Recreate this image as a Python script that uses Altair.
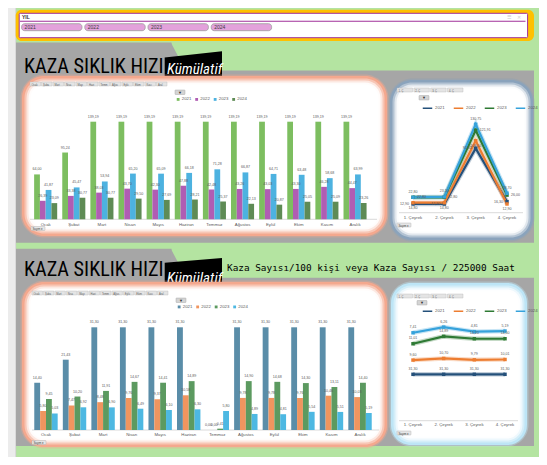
import altair as alt
import pandas as pd

# ---------------- data ----------------
years = ["2021", "2022", "2023", "2024"]
months = ["Ocak", "Şubat", "Mart", "Nisan", "Mayıs", "Haziran",
          "Temmuz", "Ağustos", "Eylül", "Ekim", "Kasım", "Aralık"]
quarters = ["1. Çeyrek", "2. Çeyrek", "3. Çeyrek", "4. Çeyrek"]

# Section 1 - monthly
freq_2021 = [64.00, 95.24, 139.19, 139.19, 139.19, 139.19, 139.19, 139.19, 139.19, 139.19, 139.19, 139.19]
freq_2022 = [26.39, 33.38, 38.03, 43.70, 42.30, 47.88, 42.48, 43.26, 43.03, 43.30, 46.28, 44.47]
freq_2023 = [41.87, 45.47, 53.94, 65.20, 65.09, 66.18, 71.28, 66.87, 64.71, 63.48, 58.68, 63.99]
freq_2024 = [23.09, 30.77, 30.77, 29.50, 27.69, 28.21, 25.37, 22.13, 20.87, 25.05, 25.09, 23.26]
# Section 1 - quarterly
freq_q_2021 = [12.90, 12.90, 95.20, 16.30]
freq_q_2022 = [14.80, 14.80, 106.50, 12.90]
freq_q_2023 = [22.80, 22.80, 121.91, 26.00]
freq_q_2024 = [22.80, 23.50, 130.75, 28.70]

# Section 2 - monthly
rate_2021 = [14.40, 21.43, 31.30, 31.30, 31.30, 31.30, 0.00, 31.30, 31.30, 31.30, 31.30, 31.30]
rate_2022 = [5.80, 7.47, 8.48, 9.76, 9.37, 10.58, 0.00, 9.78, 9.78, 9.76, 10.46, 10.03]
rate_2023 = [9.45, 10.20, 11.91, 14.67, 14.41, 14.89, 0.41, 14.90, 14.68, 14.30, 13.11, 14.40]
rate_2024 = [5.03, 6.92, 6.90, 6.49, 6.10, 6.30, 5.80, 4.89, 4.81, 5.54, 5.51, 5.19]
# Section 2 - quarterly (stacked lines)
rate_q_2021 = [31.30, 31.30, 31.30, 31.30]
rate_q_2022 = [9.60, 10.70, 9.79, 10.01]
rate_q_2023 = [11.01, 14.89, 14.20, 14.00]
rate_q_2024 = [7.41, 6.26, 4.81, 5.19]


def monthly_df(series):
    rows = []
    for y, vals in zip(years, series):
        for m, v in zip(months, vals):
            rows.append({"ay": m, "yil": y, "deger": v})
    return pd.DataFrame(rows)


def quarterly_df(series):
    rows = []
    for y, vals in zip(years, series):
        for q, v in zip(quarters, vals):
            rows.append({"ceyrek": q, "yil": y, "deger": v})
    return pd.DataFrame(rows)


df_bar1 = monthly_df([freq_2021, freq_2022, freq_2023, freq_2024])
df_line1 = quarterly_df([freq_q_2021, freq_q_2022, freq_q_2023, freq_q_2024])
df_bar2 = monthly_df([rate_2021, rate_2022, rate_2023, rate_2024])
df_line2 = quarterly_df([rate_q_2021, rate_q_2022, rate_q_2023, rate_q_2024])

# ---------------- style ----------------
GREEN = "#B4E4A1"
GRAY = "#A6A6A6"
bar1_colors = ["#7DBE60", "#B05DB3", "#4DB2E0", "#5E8B55"]
bar2_colors = ["#5A8DA8", "#F0955F", "#5C9A60", "#4DB8E2"]
line_colors = ["#24507A", "#ED7D31", "#2E7A34", "#36A2DB"]
FONT = "Liberation Sans"
TITLE_FONT = "Liberation Sans Narrow, Roboto Condensed, DejaVu Sans Condensed, sans-serif"
LBL = "#595959"

W, H = 531, 449
M = 8  # page margin: reference coords -> canvas coords
one = pd.DataFrame({"k": [0]})


def box(x1, y1, x2, y2, fill, r=0, opacity=1.0, stroke=None, sw=0.0):
    kw = dict(fill=fill, cornerRadius=r, opacity=opacity)
    if stroke is not None:
        kw["stroke"] = stroke
        kw["strokeWidth"] = sw
    else:
        kw["strokeWidth"] = 0
    return alt.Chart(one).mark_rect(**kw).encode(
        x=alt.value(x1 - M), x2=alt.value(x2 - M),
        y=alt.value(y1 - M), y2=alt.value(y2 - M))


def txt(x, y, s, size, color="#000000", font=FONT, weight="normal", style="normal",
        align="left", baseline="alphabetic"):
    return alt.Chart(one).mark_text(
        text=s, fontSize=size, color=color, font=font, fontWeight=weight,
        fontStyle=style, align=align, baseline=baseline
    ).encode(x=alt.value(x - M), y=alt.value(y - M))


def shape(cx, cy, r, path, fill):
    return alt.Chart(one).mark_point(
        shape=path, size=(2 * r) ** 2, filled=True, color=fill, opacity=1, strokeWidth=0
    ).encode(x=alt.value(cx - M), y=alt.value(cy - M))


def glow(x1, y1, x2, y2, edge, r):
    layers = [box(x1 - 1.5, y1 - 1.5, x2 + 1.5, y2 + 1.5, edge, r + 2, 0.4),
              box(x1, y1, x2, y2, edge, r)]
    for inset, op in [(2.5, 0.35), (4.5, 0.6), (6.5, 0.85), (8.5, 1.0)]:
        layers.append(box(x1 + inset, y1 + inset, x2 - inset, y2 - inset,
                          "#FFFFFF", max(r - inset, 2), op))
    return layers


def field_buttons(items, x1, x2, y1, y2):
    d = pd.DataFrame({"f": items})
    sc = alt.Scale(domain=items, range=[x1 - M, x2 - M], paddingInner=0.08, paddingOuter=0)
    b = alt.Chart(d).mark_bar(fill="#E4E4E4", stroke="#B5B5B5", strokeWidth=0.4).encode(
        x=alt.X("f:N", scale=sc, axis=None, sort=items),
        y=alt.value(y1 - M), y2=alt.value(y2 - M))
    t = alt.Chart(d).transform_calculate(s="substring(datum.f, 0, 4)").mark_text(
        fontSize=2.6, color="#606060", align="left", dx=1.5, font=FONT).encode(
        x=alt.X("f:N", scale=sc, axis=None, sort=items, bandPosition=0),
        y=alt.value((y1 + y2) / 2 + 1 - M), text="s:N")
    return alt.layer(b, t)


def filter_button(x1, y1):
    return [box(x1, y1, x1 + 10, y1 + 4.5, "#D4D4D4", 0.5, stroke="#9A9A9A", sw=0.4),
            txt(x1 + 5, y1 + 3.9, "▼", 4, color="#303030", align="center")]


def count_button(x1, y1):
    return [box(x1, y1, x1 + 14, y1 + 4, "#E6E6E6", 0.5, stroke="#A8A8A8", sw=0.4),
            txt(x1 + 1.5, y1 + 3.2, "Sayım ▾", 2.8, color="#404040")]


LBL_EXPR = "replace(format(datum.deger, '.2f'), '.', ',')"


def bar_panel(df, colors, x_range, y_range, ymax, leg_x, leg_y, base_y, lab_y, rule_x):
    xs = alt.Scale(domain=months, range=x_range, paddingInner=0.18, paddingOuter=0.09)
    ys = alt.Scale(domain=[0, ymax], range=y_range, nice=False, zero=True)
    cs = alt.Scale(domain=years, range=colors)
    xo = alt.Scale(domain=years, paddingInner=0, paddingOuter=0)
    X = alt.X("ay:N", scale=xs, axis=None, sort=months)
    XO = alt.XOffset("yil:N", scale=xo, sort=years)
    Y = alt.Y("deger:Q", scale=ys, axis=None)
    legend = alt.Legend(orient="none", legendX=leg_x, legendY=leg_y, direction="horizontal",
                        title=None, symbolType="square", symbolSize=8, symbolStrokeWidth=0,
                        labelFontSize=4.3, labelOffset=1.5, labelColor=LBL, labelFont=FONT,
                        columnPadding=2.5, padding=0, rowPadding=0)
    bars = alt.Chart(df).mark_bar().encode(
        x=X, xOffset=XO, y=Y,
        color=alt.Color("yil:N", scale=cs, sort=years, legend=legend))
    labels = alt.Chart(df).transform_calculate(lbl=LBL_EXPR).mark_text(
        fontSize=3.6, color=LBL, baseline="bottom", dy=-3, font=FONT).encode(
        x=X, xOffset=XO, y=Y, text="lbl:N")
    base = alt.Chart(one).mark_rule(color="#D0D0D0", strokeWidth=0.8).encode(
        x=alt.value(rule_x[0] - M), x2=alt.value(rule_x[1] - M),
        y=alt.value(base_y - M))
    mlab = alt.Chart(pd.DataFrame({"ay": months})).mark_text(
        fontSize=4.3, color=LBL, baseline="middle", font=FONT).encode(
        x=X, y=alt.value(lab_y - M), text="ay:N")
    return alt.layer(base, bars, labels, mlab)


def line_panel(df, x_range, y_range, ymax, stacked, leg_x, leg_y, base_y, lab_y, rule_x):
    xs = alt.Scale(type="point", domain=quarters, range=x_range, padding=0)
    ys = alt.Scale(domain=[0, ymax], range=y_range, nice=False, zero=True)
    cs = alt.Scale(domain=years, range=line_colors)
    X = alt.X("ceyrek:N", scale=xs, axis=None, sort=quarters)
    src = alt.Chart(df)
    yfield = "deger"
    if stacked:
        src = src.transform_window(cum="sum(deger)", groupby=["ceyrek"],
                                   sort=[alt.SortField("yil", order="ascending")])
        yfield = "cum"
    Y = alt.Y(f"{yfield}:Q", scale=ys, axis=None)
    legend = alt.Legend(orient="none", legendX=leg_x, legendY=leg_y, direction="horizontal",
                        title=None, symbolType="stroke", symbolSize=90, symbolStrokeWidth=1.5,
                        symbolOpacity=1, labelFontSize=4.3, labelOffset=2, labelColor=LBL,
                        labelFont=FONT, columnPadding=5, padding=0, rowPadding=0)
    C = alt.Color("yil:N", scale=cs, sort=years, legend=legend)
    base = alt.Chart(one).mark_rule(color="#D0D0D0", strokeWidth=0.8).encode(
        x=alt.value(rule_x[0] - M), x2=alt.value(rule_x[1] - M),
        y=alt.value(base_y - M))
    halo = src.mark_line(strokeWidth=4.5, opacity=0.28).encode(x=X, y=Y, color=C)
    line = src.mark_line(strokeWidth=2.2).encode(x=X, y=Y, color=C)
    pts = src.mark_point(shape="square", filled=True, size=12, opacity=1).encode(
        x=X, y=Y, color=C)
    lsrc = src.transform_calculate(lbl=LBL_EXPR)
    lab_layers = []
    if stacked:
        lab_layers.append(lsrc.mark_text(
            fontSize=3.6, color=LBL, baseline="bottom", dy=-3.5, font=FONT).encode(
            x=X, y=Y, text="lbl:N"))
    else:
        # labels placed around the points so that close values stay readable
        placements = {"2024": dict(baseline="bottom", dy=-3.5, align="center"),
                      "2023": dict(baseline="middle", dx=4, align="left"),
                      "2022": dict(baseline="top", dy=3.5, align="center"),
                      "2021": dict(baseline="middle", dx=-4, align="right")}
        for yr, kw in placements.items():
            lab_layers.append(lsrc.transform_filter(alt.datum.yil == yr).mark_text(
                fontSize=3.6, color=LBL, font=FONT, **kw).encode(
                x=X, y=Y, text="lbl:N"))
    qlab = alt.Chart(pd.DataFrame({"ceyrek": quarters})).mark_text(
        fontSize=4.3, color=LBL, baseline="middle", font=FONT).encode(
        x=X, y=alt.value(lab_y - M), text="ceyrek:N")
    return alt.layer(base, halo, line, pts, *lab_layers, qlab)


layers = []
# Excel row-header strip
layers.append(box(8, 8, 16, 457, "#ECECEC"))
layers.append(box(15.5, 8, 16.2, 457, "#C8C8C8"))

# ---- slicer ----
layers.append(box(15.7, 9.8, 534, 41, "#FFC000", 6))
layers.append(box(19.2, 13.3, 527.6, 37.7, "#FFFFFF", 1, stroke="#A0309A", sw=1))
layers.append(box(20, 20.8, 525.5, 21.8, "#A0309A"))
layers.append(txt(22, 19, "YIL", 5, weight="bold", color="#303030"))
layers.append(txt(509, 18.8, "☰", 5, color="#C8C8C8", align="center"))
layers.append(txt(519, 18.8, "✕", 5, color="#D0D0D0", align="center"))
yr_df = pd.DataFrame({"yil": years})
bsc = alt.Scale(domain=years, range=[21.6 - M, 271.6 - M], paddingInner=0.045, paddingOuter=0)
slicer_btn = alt.Chart(yr_df).mark_bar(fill="#E3A2DB", stroke="#9C9C9C", strokeWidth=0.8,
                                       cornerRadius=3).encode(
    x=alt.X("yil:N", scale=bsc, axis=None, sort=years),
    y=alt.value(23.7 - M), y2=alt.value(30.7 - M))
slicer_txt = alt.Chart(yr_df).mark_text(align="left", dx=3, fontSize=5, color="#404040",
                                        baseline="middle", font=FONT).encode(
    x=alt.X("yil:N", scale=bsc, axis=None, sort=years, bandPosition=0),
    y=alt.value(27.4 - M), text="yil:N")
layers.append(alt.layer(slicer_btn, slicer_txt))

# ---- section panels (gray) ----
TAB_PATH = "M-0.526,-1 L0.526,1 L-0.526,1 Z"
layers.append(box(16, 42.5, 171.5, 71.5, GRAY))
layers.append(shape(178.5, 57, 14.5, TAB_PATH, GRAY))
layers.append(box(16, 70.5, 534, 242.7, GRAY))
layers.append(box(16, 248.7, 171.5, 278.5, GRAY))
layers.append(shape(178.5, 263.3, 14.6, TAB_PATH, GRAY))
layers.append(box(16, 277.7, 534, 446, GRAY))

# ---- titles ----
layers.append(txt(24, 73, "KAZA SIKLIK HIZI", 20.2, font=TITLE_FONT))
layers.append(shape(193.35, 64, 28.65, "M-1,-0.23 L1,-0.447 L1,0.44 L-1,0.44 Z", "#000000"))
layers.append(txt(167, 74, "Kümülatif", 15, color="#FFFFFF", font=TITLE_FONT, style="italic"))
layers.append(txt(24, 276, "KAZA SIKLIK HIZI", 20.2, font=TITLE_FONT))
layers.append(shape(193.35, 271.7, 28.65, "M-1,-0.314 L1,-0.478 L1,0.478 L-1,0.478 Z", "#000000"))
layers.append(txt(167, 283, "Kümülatif", 15, color="#FFFFFF", font=TITLE_FONT, style="italic"))
layers.append(txt(227, 270.5, "Kaza Sayısı/100 kişi veya Kaza Sayısı / 225000 Saat", 9.4,
                  font="DejaVu Sans Mono", color="#000000"))

# ---- frames ----
layers += glow(22, 76, 387, 236, "#F4A88E", 22)
layers += glow(390, 80, 533, 240, "#8AA3BC", 22)
layers += glow(22, 282, 387, 447, "#F4A88E", 22)
layers += glow(391, 283, 527, 445, "#BDE5F6", 20)

# ---- pivot buttons ----
layers.append(field_buttons(months, 30, 167, 82, 86))
layers.append(field_buttons(months, 32, 168, 291, 295))
layers.append(field_buttons(quarters, 397, 463, 88, 92))
layers.append(field_buttons(quarters, 397, 463, 294, 298))
layers += filter_button(175, 90)
layers += filter_button(176, 298)
layers += filter_button(419, 95.5)
layers += filter_button(417, 300.5)
layers += count_button(31, 226.5)
layers += count_button(32, 440.5)
layers += count_button(397, 223)
layers += count_button(397, 431)

# ---- charts ----
layers.append(bar_panel(df_bar1, bar1_colors, [23.6, 361.1], [211.3, 113.7], 139.19,
                        168, 89, 219.3, 224.5, (30, 377)))
layers.append(line_panel(df_line1, [405, 499], [204.7, 110.06], 140, False,
                         414, 94.5, 212.7, 217.5, (399, 523)))
layers.append(bar_panel(df_bar2, bar2_colors, [23.7, 366.3], [422, 319.3], 31.3,
                        169, 296.5, 430, 434.5, (32, 379)))
layers.append(line_panel(df_line2, [405, 497], [412.7, 308.96], 70, True,
                         414, 297.5, 420.7, 425, (399, 518)))

chart = alt.layer(*layers).resolve_scale(
    x="independent", y="independent", color="independent", xOffset="independent"
).resolve_legend(color="independent").properties(
    width=W, height=H, padding=0, background=GREEN,
    autosize=alt.AutoSizeParams(type="none")
).configure_view(stroke=None)

chart.save("out.html", embed_options={"renderer": "svg", "actions": False})
